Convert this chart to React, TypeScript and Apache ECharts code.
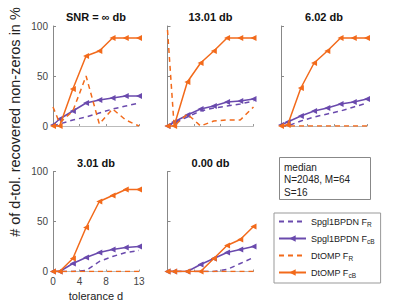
import React, { useEffect, useRef } from "react";
import * as echarts from "echarts";

const xVals = [0, 1, 3, 5, 7, 9, 11, 13];
const xTicks = [0, 4, 8, 13];
const panelTitles = ["SNR = ∞ db", "13.01 db", "6.02 db", "3.01 db", "0.00 db"];
const seriesNames = ["Spgl1BPDN FR", "Spgl1BPDN FcB", "DtOMP FR", "DtOMP FcB"];

const spglFR = [
  [0, 2, 6, 9, 13, 17, 20, 23],
  [0, 3, 9, 15, 18, 20, 22, 25],
  [0, 0, 5, 9, 12, 15, 19, 23],
  [0, 0, 0, 1, 10, 15, 19, 21],
  [0, 0, 0, 0, 0, 2, 8, 14],
];
const spglFcB = [
  [1, 7, 15, 23, 26, 28, 30, 30],
  [0, 4, 11, 17, 20, 24, 25, 27],
  [1, 4, 10, 15, 18, 22, 24, 27],
  [0, 0, 8, 14, 19, 22, 24, 25],
  [0, 0, 0, 7, 13, 19, 22, 25],
];
const dtompFR = [
  [19, 3, 15, 50, 2, 17, 6, 0],
  [96, 0, 12, 0, 5, 6, 6, 19],
  [0, 0, 0, 0, 0, 0, 0, 0],
  [0, 0, 0, 0, 0, 0, 0, 0],
  [0, 0, 0, 0, 0, 0, 0, 0],
];
const dtompFcB = [
  [0, 0, 37, 70, 75, 88, 88, 88],
  [0, 0, 44, 63, 75, 88, 88, 88],
  [0, 1, 38, 63, 75, 88, 88, 88],
  [0, 0, 13, 44, 70, 76, 82, 82],
  [0, 0, 0, 0, 13, 26, 32, 45],
];
const infoLines = ["median", "N=2048, M=64", "S=16"];

const PURPLE = "#6a4aad";
const ORANGE = "#f26a1b";
const FONT = '"Liberation Sans", Arial, sans-serif';

const grids = [
  { left: 53, top: 26 },
  { left: 167.5, top: 26 },
  { left: 281, top: 26 },
  { left: 53, top: 171.5 },
  { left: 167.5, top: 171.5 },
];
const GW = 86;
const GH = 100;

function zip(ys: number[]) {
  return xVals.map((x, i) => [x, ys[i]]);
}

export default function App() {
  const ref = useRef<HTMLDivElement>(null);
  useEffect(() => {
    if (!ref.current) return;
    const chart = echarts.init(ref.current, undefined, { renderer: "svg" });
    const series: any[] = [];
    const groups = [spglFR, spglFcB, dtompFR, dtompFcB];
    const colors = [PURPLE, PURPLE, ORANGE, ORANGE];
    const dashed = [true, false, true, false];
    grids.forEach((_, i) => {
      groups.forEach((g, k) => {
        series.push({
          type: "line",
          name: seriesNames[k],
          xAxisIndex: i,
          yAxisIndex: i,
          data: zip(g[i]),
          symbol: dashed[k] ? "none" : "triangle",
          symbolRotate: 90,
          symbolSize: 6,
          showSymbol: !dashed[k],
          lineStyle: { color: colors[k], width: 1.5, type: dashed[k] ? [5, 4] : "solid" },
          itemStyle: { color: colors[k] },
          z: 2 + k,
        });
      });
    });
    const legendRich: Record<string, string> = {
      "Spgl1BPDN FR": "{b|Spgl1BPDN F}{s|R}",
      "Spgl1BPDN FcB": "{b|Spgl1BPDN F}{s|cB}",
      "DtOMP FR": "{b|DtOMP F}{s|R}",
      "DtOMP FcB": "{b|DtOMP F}{s|cB}",
    };
    const titleCenters = [96, 210.5, 324, 96, 210.5];
    const titleYs = [17, 17, 17, 163, 163];
    const graphics: any[] = [];
    panelTitles.forEach((t, i) => {
      graphics.push({
        type: "text",
        x: titleCenters[i],
        y: titleYs[i],
        style: {
          text: t,
          font: `bold 11px ${FONT}`,
          fill: "#111",
          textAlign: "center",
          textVerticalAlign: "middle",
        },
      });
    });
    graphics.push({
      type: "text",
      x: 15,
      y: 122,
      rotation: Math.PI / 2,
      style: {
        text: "# of d-tol. recovered non-zeros in %",
        font: `14.5px ${FONT}`,
        fill: "#222",
        textAlign: "center",
        textVerticalAlign: "middle",
      },
    });
    graphics.push({
      type: "text",
      x: 96,
      y: 296,
      style: {
        text: "tolerance d",
        font: `11px ${FONT}`,
        fill: "#222",
        textAlign: "center",
        textVerticalAlign: "middle",
      },
    });
    graphics.push({
      type: "rect",
      shape: { x: 279.5, y: 157.5, width: 91, height: 42 },
      style: { fill: "#fff", stroke: "#888", lineWidth: 1 },
    });
    infoLines.forEach((t, j) => {
      graphics.push({
        type: "text",
        x: 284,
        y: 167 + j * 12.5,
        style: {
          text: t,
          font: `10px ${FONT}`,
          fill: "#222",
          textAlign: "left",
          textVerticalAlign: "middle",
        },
      });
    });

    chart.setOption({
      animation: false,
      backgroundColor: "#fff",
      grid: grids.map((g) => ({ left: g.left, top: g.top, width: GW, height: GH })),
      xAxis: grids.map((_, i) => ({
        gridIndex: i,
        type: "value",
        min: 0,
        max: 13,
        axisLine: { show: true, lineStyle: { color: "#bbb", width: 1 } },
        axisTick: { show: true, inside: true, length: 2, customValues: xTicks, lineStyle: { color: "#999" } },
        axisLabel: {
          show: i === 3,
          customValues: xTicks,
          fontSize: 10,
          color: "#444",
          margin: 5,
          fontFamily: FONT,
        },
        splitLine: { show: false },
      })),
      yAxis: grids.map((_, i) => ({
        gridIndex: i,
        type: "value",
        min: 0,
        max: 100,
        interval: 50,
        axisLine: { show: true, lineStyle: { color: "#888", width: 1 } },
        axisTick: { show: true, inside: true, length: 3, lineStyle: { color: "#888" } },
        axisLabel: {
          show: i === 0 || i === 3,
          fontSize: 10,
          color: "#444",
          margin: 5,
          fontFamily: FONT,
        },
        splitLine: { show: false },
      })),
      legend: {
        orient: "vertical",
        left: 274,
        top: 213,
        itemWidth: 27,
        itemHeight: 8,
        itemGap: 6,
        padding: [4, 6, 4, 4],
        borderColor: "#999",
        borderWidth: 1,
        backgroundColor: "#fff",
        data: seriesNames.map((n, k) =>
          k % 2 === 0
            ? { name: n, itemStyle: { color: "transparent", borderColor: "transparent", opacity: 0 } }
            : { name: n }
        ),
        formatter: (name: string) => legendRich[name],
        textStyle: {
          fontFamily: FONT,
          rich: {
            b: { fontSize: 9, color: "#222", fontFamily: FONT },
            s: { fontSize: 6.5, color: "#222", fontFamily: FONT, padding: [6, 0, 0, 0] },
          },
        },
      },
      graphic: graphics,
      series,
    });
    return () => chart.dispose();
  }, []);
  return <div ref={ref} style={{ width: 407, height: 305, position: "absolute", left: 0, top: 0 }} />;
}
